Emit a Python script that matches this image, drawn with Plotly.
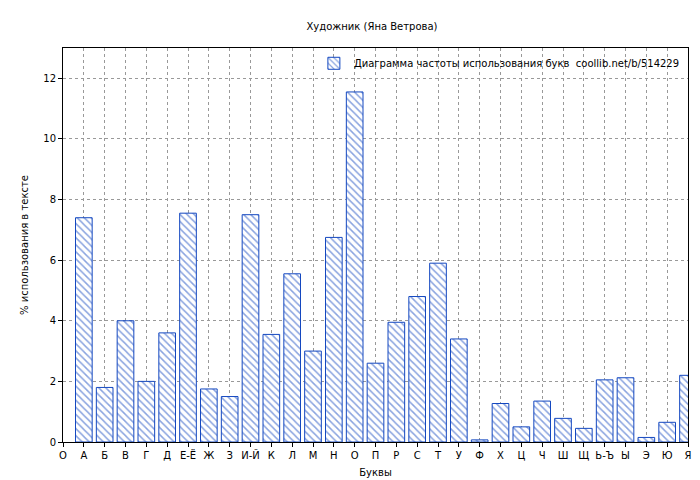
import plotly.graph_objects as go

tick_labels = ["О","А","Б","В","Г","Д","Е-Ё","Ж","З","И-Й","К","Л","М","Н","О","П","Р","С","Т","У","Ф","Х","Ц","Ч","Ш","Щ","Ь-Ъ","Ы","Э","Ю","Я"]
bar_positions = list(range(1, 31))
values = [7.4,1.8,4.0,2.0,3.6,7.55,1.75,1.5,7.5,3.55,5.55,3.0,6.75,11.55,2.6,3.95,4.8,5.9,3.4,0.07,1.27,0.5,1.35,0.78,0.45,2.05,2.12,0.15,0.65,2.2]

fig = go.Figure()
fig.add_bar(x=bar_positions, y=values, width=0.8,
            name="Диаграмма частоты использования букв  coollib.net/b/514229",
            marker=dict(color="white", line=dict(color="#1448c0", width=1),
                        pattern=dict(shape="\\", fgcolor="#1448c0", bgcolor="white", size=5, solidity=0.3)))
ax = dict(showline=True, linecolor="black", mirror=True, gridcolor="#999999", griddash="dot",
          ticks="outside", tickcolor="black", ticklen=4, zeroline=False,
          tickfont=dict(family="DejaVu Sans", size=10, color="black"))
fig.update_layout(
    width=700, height=480, paper_bgcolor="white", plot_bgcolor="white",
    margin=dict(l=55, r=20, t=40, b=46, autoexpand=False),
    title=dict(text="Художник (Яна Ветрова)", x=0.52, y=0.962, xanchor="center", yanchor="middle",
               font=dict(family="DejaVu Sans", size=10, color="black")),
    font=dict(family="DejaVu Sans", size=10, color="black"),
    showlegend=True,
    legend=dict(x=0.995, y=0.998, xanchor="right", yanchor="top", bgcolor="rgba(0,0,0,0)",
                itemwidth=30, font=dict(size=10)),
)
fig.update_xaxes(**ax, range=[0, 30], tickmode="array", tickvals=list(range(31)), ticktext=tick_labels,
                 title=dict(text="Буквы", font=dict(size=10), standoff=8))
fig.update_yaxes(**ax, range=[0, 13], dtick=2, title=dict(text="% использования в тексте", font=dict(size=10), standoff=12))
fig.write_html("out.html")
